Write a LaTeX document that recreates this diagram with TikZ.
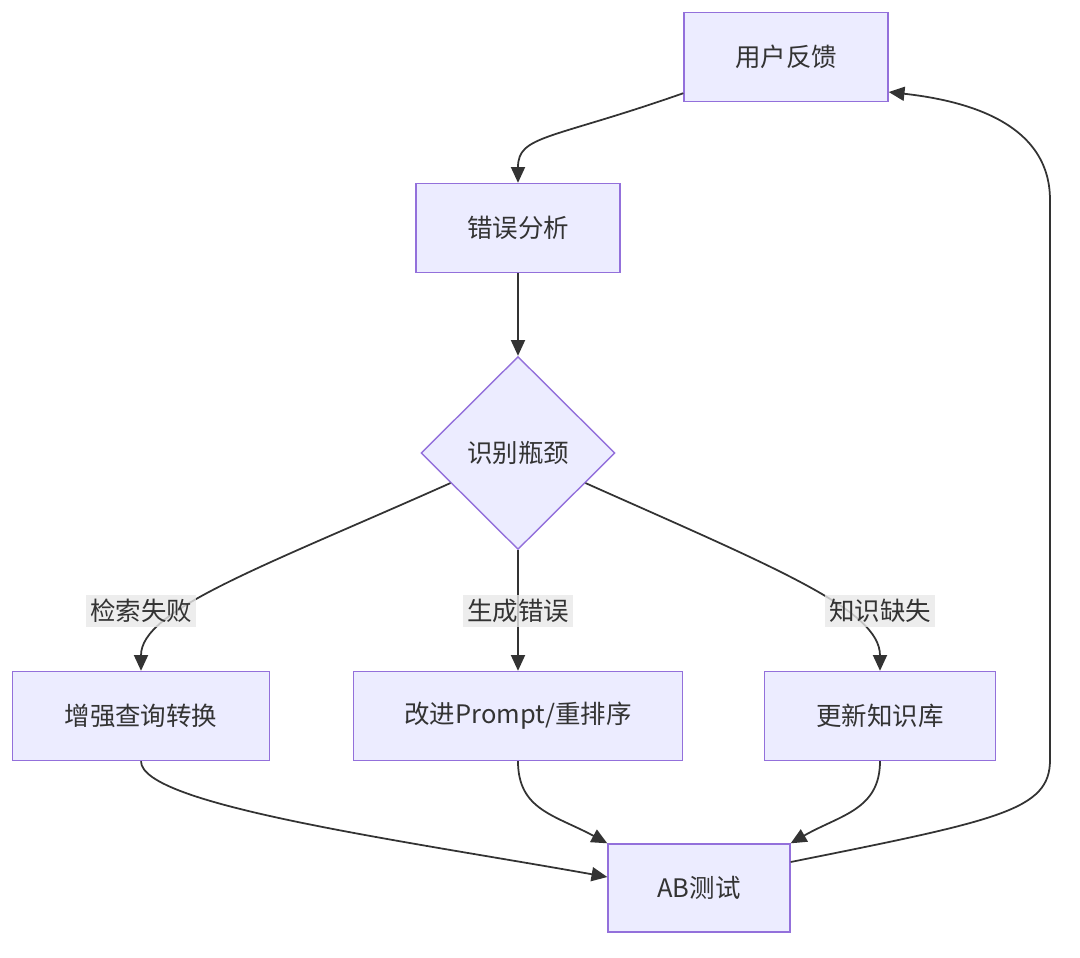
\documentclass[tikz,border=0pt]{standalone}
\usepackage{fontspec}
\setmainfont{Noto Sans CJK SC}
\usetikzlibrary{shapes.geometric,arrows.meta}
\definecolor{boxfill}{HTML}{ECECFF}
\definecolor{boxline}{HTML}{9370DB}
\definecolor{edgeline}{HTML}{333333}
\definecolor{lblfill}{HTML}{E8E8E8}

\begin{document}
\begin{tikzpicture}[
	x=0.02cm, y=0.02cm,
	font=\fontsize{14.5}{17}\selectfont,
	box/.style = {
		draw=boxline, fill=boxfill,
		line width=0.8pt,
		text=edgeline,
		minimum height=1.78cm,
		inner sep=0pt,
	},
	decide/.style = {
		box, diamond, aspect=1,
		minimum width=3.88cm,
		minimum height=3.86cm,
	},
	lbl/.style = {
		fill=lblfill, fill opacity=0.8, text opacity=1,
		text=edgeline,
		inner sep=2.5pt,
	},
	arr/.style = {
		draw=edgeline, line width=1pt,
		-{Triangle[length=9pt,width=8pt]},
	},
]
\useasboundingbox (0,0) rectangle (1080,-958);

% boxes
\node [box, minimum width=4.08cm] (fb) at (786,-57) {用户反馈};
\node [box, minimum width=4.08cm] (err) at (518,-228) {错误分析};
\node [decide] (id) at (518,-453) {识别瓶颈};
\node [box, minimum width=5.14cm] (enh) at (141,-716) {增强查询转换};
\node [box, minimum width=6.58cm] (imp) at (518,-716) {改进Prompt/重排序};
\node [box, minimum width=4.62cm] (upd) at (880,-716) {更新知识库};
\node [box, minimum width=3.64cm, minimum height=1.76cm] (ab) at (699,-888) {AB测试};

% connections
\draw[arr] ([yshift=0.18cm]fb.south west) .. controls (550,-140) and (518,-135) .. (err.north);
\draw[arr] (err.south) -- (id.north);
\draw[arr] (id.204) .. controls (260,-568) and (141,-610) .. (enh.north);
\draw[arr] (id.south) -- (imp.north);
\draw[arr] (id.336) .. controls (776,-568) and (880,-610) .. (upd.north);
\draw[arr] (enh.south) .. controls (141,-805) and (400,-840) .. ([yshift=0.22cm]ab.west);
\draw[arr] (imp.south) .. controls (518,-810) and (555,-815) .. (ab.north west);
\draw[arr] (upd.south) .. controls (880,-810) and (840,-815) .. (ab.north east);
\draw[arr] ([yshift=0.52cm]ab.east) .. controls (1000,-820) and (1050,-810) .. (1050,-760)
	-- (1050,-200) .. controls (1050,-120) and (960,-100) .. ([yshift=-0.7cm]fb.east);

% edge labels
\node [lbl] (l1) at (141,-611) {检索失败};
\node [lbl] (l2) at (518,-611) {生成错误};
\node [lbl] (l3) at (880,-611) {知识缺失};

\end{tikzpicture}
\end{document}
